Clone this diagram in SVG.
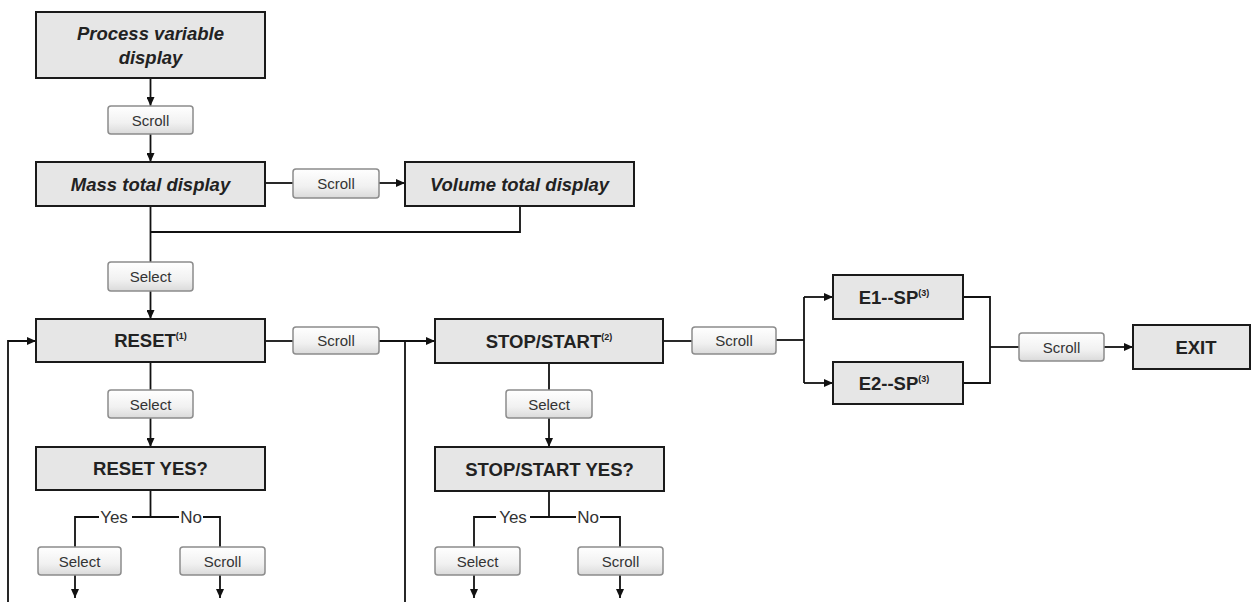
<svg xmlns="http://www.w3.org/2000/svg" width="1253" height="602" viewBox="0 0 1253 602">
<defs>
<linearGradient id="btnGrad" x1="0" y1="0" x2="0" y2="1">
<stop offset="0" stop-color="#ffffff"/>
<stop offset="0.6" stop-color="#f1f1f1"/>
<stop offset="1" stop-color="#dadada"/>
</linearGradient>
<marker id="arr" markerUnits="userSpaceOnUse" markerWidth="9" markerHeight="8" refX="9" refY="4" orient="auto">
<path d="M0,0 L9,4 L0,8 z" fill="#111"/>
</marker>
<style>
.box{fill:#e6e6e6;stroke:#1a1a1a;stroke-width:2}
.btn{fill:url(#btnGrad);stroke:#8c8c8c;stroke-width:1.5}
.bt{font-family:"Liberation Sans",Arial,sans-serif;font-weight:bold;font-size:18.5px;fill:#222;text-anchor:middle}
.bi{font-style:italic}
.sup{font-size:9px}
.lbl{font-family:"Liberation Sans",Arial,sans-serif;font-size:15px;fill:#333;text-anchor:middle}
.yn{font-family:"Liberation Sans",Arial,sans-serif;font-size:17px;fill:#333;text-anchor:middle}
.ln{fill:none;stroke:#111;stroke-width:1.8}
.ar{fill:none;stroke:#111;stroke-width:1.8;marker-end:url(#arr)}
</style>
</defs>
<rect width="1253" height="602" fill="#ffffff"/>

<g id="connectors">
<path class="ar" d="M150.5,78 V106"/>
<path class="ar" d="M150.5,134 V162"/>
<path class="ln" d="M265,183 H293"/>
<path class="ar" d="M379,183 H405"/>
<path class="ln" d="M150.5,206 V262"/>
<path class="ln" d="M520,206 V232 H150.5"/>
<path class="ar" d="M150.5,291 V319"/>
<path class="ln" d="M150.5,362 V390"/>
<path class="ar" d="M150.5,418 V447"/>
<path class="ln" d="M150.5,490 V517"/>
<path class="ln" d="M75,547 V517 H99 M132,517 H179 M203,517 H220 V547"/>
<path class="ar" d="M75,575 V598"/>
<path class="ar" d="M220,575 V598"/>
<path class="ar" d="M8,602 V341 H36"/>
<path class="ln" d="M265,341 H293"/>
<path class="ar" d="M379,341 H435"/>
<path class="ln" d="M405,341 V602"/>
<path class="ln" d="M549,363 V390"/>
<path class="ar" d="M549,418 V447"/>
<path class="ln" d="M549,491 V517"/>
<path class="ln" d="M474,547 V517 H496 M530,517 H576 M600,517 H620 V547"/>
<path class="ar" d="M474,575 V598"/>
<path class="ar" d="M620,575 V598"/>
<path class="ln" d="M663,341 H692"/>
<path class="ln" d="M776,340 H804"/>
<path class="ln" d="M804,297 V383"/>
<path class="ar" d="M804,297 H833"/>
<path class="ar" d="M804,383 H833"/>
<path class="ln" d="M963,297 H990 V383 H963"/>
<path class="ln" d="M990,347 H1019"/>
<path class="ar" d="M1104,347 H1133"/>
<text class="yn" x="114" y="523">Yes</text>
<text class="yn" x="191" y="523">No</text>
<text class="yn" x="513" y="523">Yes</text>
<text class="yn" x="588" y="523">No</text>
</g>

<g id="process-variable-display">
<rect class="box" x="36" y="12" width="229" height="66"/>
<text class="bt bi" x="150.5" y="40">Process variable</text>
<text class="bt bi" x="150.5" y="64">display</text>
</g>
<g id="btn-scroll-1">
<rect class="btn" x="108" y="106" width="85" height="28" rx="3"/>
<text class="lbl" x="150.5" y="125.5">Scroll</text>
</g>
<g id="mass-total-display">
<rect class="box" x="36" y="162" width="229" height="44"/>
<text class="bt bi" x="150.5" y="190.5">Mass total display</text>
</g>
<g id="btn-scroll-2">
<rect class="btn" x="293" y="169" width="86" height="29" rx="3"/>
<text class="lbl" x="336" y="188.5">Scroll</text>
</g>
<g id="volume-total-display">
<rect class="box" x="405" y="162" width="229" height="44"/>
<text class="bt bi" x="519.5" y="190.5">Volume total display</text>
</g>
<g id="btn-select-1">
<rect class="btn" x="108" y="262" width="85" height="29" rx="3"/>
<text class="lbl" x="150.5" y="282">Select</text>
</g>
<g id="reset">
<rect class="box" x="36" y="319" width="229" height="43"/>
<text class="bt" x="150.5" y="347">RESET<tspan class="sup" dy="-8">(1)</tspan></text>
</g>
<g id="btn-scroll-3">
<rect class="btn" x="293" y="327" width="86" height="27" rx="3"/>
<text class="lbl" x="336" y="346">Scroll</text>
</g>
<g id="btn-select-2">
<rect class="btn" x="108" y="390" width="85" height="28" rx="3"/>
<text class="lbl" x="150.5" y="409.5">Select</text>
</g>
<g id="reset-yes">
<rect class="box" x="36" y="447" width="229" height="43"/>
<text class="bt" x="150.5" y="475">RESET YES?</text>
</g>
<g id="btn-select-3">
<rect class="btn" x="38" y="547" width="83" height="28" rx="3"/>
<text class="lbl" x="79.5" y="566.5">Select</text>
</g>
<g id="btn-scroll-4">
<rect class="btn" x="180" y="547" width="85" height="28" rx="3"/>
<text class="lbl" x="222.5" y="566.5">Scroll</text>
</g>
<g id="stop-start">
<rect class="box" x="435" y="319" width="228" height="44"/>
<text class="bt" x="549" y="347.5">STOP/START<tspan class="sup" dy="-8">(2)</tspan></text>
</g>
<g id="btn-scroll-5">
<rect class="btn" x="692" y="327" width="84" height="27" rx="3"/>
<text class="lbl" x="734" y="346">Scroll</text>
</g>
<g id="btn-select-4">
<rect class="btn" x="506" y="390" width="86" height="28" rx="3"/>
<text class="lbl" x="549" y="409.5">Select</text>
</g>
<g id="stop-start-yes">
<rect class="box" x="435" y="447" width="229" height="44"/>
<text class="bt" x="549.5" y="475.5">STOP/START YES?</text>
</g>
<g id="btn-select-5">
<rect class="btn" x="435" y="547" width="85" height="28" rx="3"/>
<text class="lbl" x="477.5" y="566.5">Select</text>
</g>
<g id="btn-scroll-6">
<rect class="btn" x="578" y="547" width="85" height="28" rx="3"/>
<text class="lbl" x="620.5" y="566.5">Scroll</text>
</g>
<g id="e1-sp">
<rect class="box" x="833" y="275" width="130" height="44"/>
<text class="bt" x="894" y="303.5">E1--SP<tspan class="sup" dy="-8">(3)</tspan></text>
</g>
<g id="e2-sp">
<rect class="box" x="833" y="362" width="130" height="42"/>
<text class="bt" x="894" y="389.5">E2--SP<tspan class="sup" dy="-8">(3)</tspan></text>
</g>
<g id="btn-scroll-7">
<rect class="btn" x="1019" y="333" width="85" height="28" rx="3"/>
<text class="lbl" x="1061.5" y="352.5">Scroll</text>
</g>
<g id="exit">
<rect class="box" x="1133" y="325" width="117" height="44"/>
<text class="bt" x="1196" y="353.5">EXIT</text>
</g>
</svg>
